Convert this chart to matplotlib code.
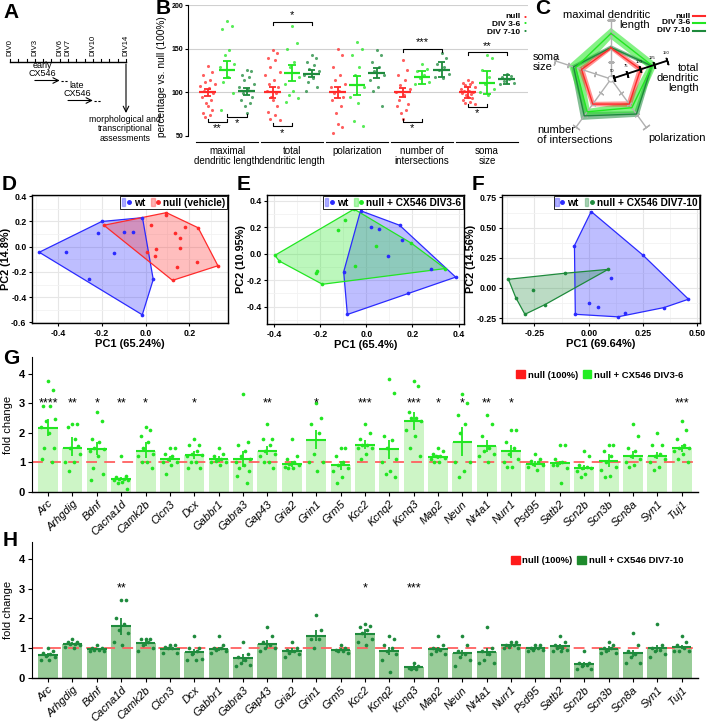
import matplotlib
matplotlib.use('Agg')
import matplotlib.pyplot as plt
import numpy as np
from matplotlib.patches import Patch
from matplotlib.lines import Line2D
from matplotlib.legend_handler import HandlerTuple
from matplotlib.ticker import FormatStrFormatter, MultipleLocator

plt.rcParams['font.family'] = ['Liberation Sans', 'DejaVu Sans']

# ---------------- data ----------------
div_days = [0, 3, 6, 7, 10, 14]

b_groups = ['maximal\ndendritic length', 'total\ndendritic length', 'polarization',
            'number of\nintersections', 'soma\nsize']
b_mean_null = [100, 100, 100, 100, 100]
b_sem_null = [4, 6, 6, 5, 6]
b_mean_early = [126, 122, 108, 117, 111]
b_sem_early = [10, 9, 11, 7, 13]
b_mean_late = [101, 121, 122, 126, 115]
b_sem_late = [4, 4, 6, 9, 5]
b_pts_null = [
    [130, 123, 120, 114, 112, 110, 107, 105, 102, 99, 95, 91, 88, 84, 80, 76, 74, 72],
    [148, 145, 139, 137, 129, 123, 120, 114, 110, 106, 102, 99, 95, 91, 84, 78, 74, 70, 68],
    [150, 143, 129, 120, 114, 110, 106, 102, 99, 95, 91, 84, 76, 64, 60, 53],
    [137, 125, 120, 114, 108, 104, 100, 97, 91, 87, 84, 80, 76, 70],
    [114, 112, 111, 110, 108, 106, 104, 102, 101, 100, 99, 98, 97, 95, 93, 91, 89, 88, 87],
]
b_pts_early = [
    [182, 176, 172, 148, 143, 133, 129, 118, 112, 99, 80],
    [176, 156, 150, 135, 129, 118, 110, 102, 97, 93, 89],
    [158, 150, 143, 129, 120, 106, 95, 88, 67, 61],
    [133, 127, 124, 120, 116, 112, 110],
    [143, 139, 125, 118, 110, 104, 100, 97],
]
b_pts_late = [
    [125, 124, 120, 118, 114, 110, 106, 103, 99, 95, 91, 88, 84, 76],
    [143, 139, 135, 131, 127, 124, 120, 116, 112, 106, 101],
    [148, 143, 135, 129, 124, 120, 114, 106, 101, 84],
    [145, 139, 133, 129, 125, 121, 118, 116],
    [121, 119, 117, 115, 113, 111, 109],
]
# (group, series a, series b, level, label, side)
b_sig = [(0, 0, 1, 66, '**', -1), (0, 1, 2, 72, '*', -1), (1, 0, 2, 181, '*', 1),
         (1, 0, 1, 61, '*', -1), (3, 0, 2, 150, '***', 1), (3, 0, 1, 66, '*', -1),
         (4, 0, 2, 146, '**', 1), (4, 0, 1, 83, '*', -1)]

d_wt = [(-0.485, -0.044), (-0.365, -0.044), (-0.26, -0.256), (-0.2, 0.2), (-0.215, 0.11),
        (-0.142, -0.051), (-0.098, 0.118), (-0.059, 0.115), (-0.014, 0.23), (0.035, -0.26),
        (-0.015, -0.54)]
d_null = [(-0.19, 0.17), (0.095, 0.27), (0.095, 0.25), (0.027, 0.17), (0.24, 0.15),
          (0.18, 0.155), (0.136, 0.108), (0.159, 0.072), (0.158, -0.013), (0.006, -0.044),
          (0.048, -0.018), (0.045, -0.077), (0.145, -0.164), (0.235, -0.123), (0.33, -0.151),
          (0.123, -0.267)]
e_wt = [(-0.025, 0.326), (0.022, 0.204), (0.053, 0.189), (0.144, 0.216), (0.155, 0.107),
        (0.092, -0.017), (0.279, -0.117), (0.387, -0.177), (0.18, -0.298), (-0.082, -0.46),
        (-0.098, -0.137)]
e_early = [(-0.053, 0.338), (-0.092, 0.256), (-0.121, 0.179), (-0.396, -0.012), (-0.377, -0.055),
           (-0.215, -0.132), (-0.218, -0.147), (-0.19, -0.231), (-0.05, -0.092), (0.043, 0.057),
           (0.195, 0.08), (0.342, -0.112)]
f_wt = [(0.011, 0.633), (-0.066, 0.351), (0.25, 0.271), (0.1, 0.08), (0.459, -0.093),
        (0.347, -0.162), (0.168, -0.21), (0.134, -0.239), (0.0, -0.122), (0.042, -0.154),
        (-0.062, -0.218)]
f_late = [(-0.37, 0.072), (-0.336, -0.08), (-0.257, -0.013), (-0.294, -0.218), (-0.202, -0.138),
          (-0.111, 0.122), (0.089, 0.154)]

genes = ['Arc', 'Arhgdig', 'Bdnf', 'Cacna1d', 'Camk2b', 'Clcn3', 'Dcx', 'Gabbr1', 'Gabra3',
         'Gap43', 'Gria2', 'Grin1', 'Grm5', 'Kcc2', 'Kcnq2', 'Kcnq3', 'Map2', 'Neun', 'Nr4a1',
         'Nurr1', 'Psd95', 'Satb2', 'Scn2b', 'Scn3b', 'Scn8a', 'Syn1', 'Tuj1']

g_mean = [2.17, 1.5, 1.45, 0.45, 1.4, 1.1, 1.25, 1.1, 1.13, 1.4, 0.95, 1.77, 0.9, 1.6, 1.45,
          2.4, 1.18, 1.7, 1.55, 1.4, 0.95, 0.98, 0.82, 1.05, 1.23, 1.22, 1.5]
g_lo = [1.9, 1.2, 1.25, 0.4, 1.15, 1.0, 1.1, 1.0, 0.85, 1.25, 0.85, 1.45, 0.75, 1.45, 1.1,
        2.1, 1.1, 1.2, 1.35, 1.15, 0.85, 0.9, 0.75, 0.85, 1.1, 1.1, 1.35]
g_hi = [2.45, 1.85, 1.7, 0.5, 1.7, 1.2, 1.4, 1.2, 1.4, 1.55, 1.05, 2.1, 1.05, 1.75, 1.75,
        2.7, 1.25, 2.2, 1.75, 1.6, 1.05, 1.05, 0.9, 1.3, 1.4, 1.35, 1.6]
g_pts = [
    [3.75, 3.45, 2.9, 2.9, 2.4, 2.45, 2.2, 2.0, 1.5, 1.5, 1.1, 1.0],
    [2.3, 2.3, 2.2, 1.8, 1.5, 1.3, 1.0, 1.0, 0.7, 1.55],
    [2.7, 2.4, 1.8, 1.7, 1.5, 1.45, 1.4, 1.2, 0.8, 0.6, 0.4],
    [1.2, 0.55, 0.5, 0.45, 0.45, 0.4, 0.4, 0.35, 0.3, 0.1],
    [2.2, 2.1, 1.9, 1.7, 1.5, 1.3, 1.2, 1.0, 1.0, 0.8],
    [1.5, 1.5, 1.3, 1.2, 1.1, 1.0, 1.0, 0.9, 0.6],
    [1.8, 1.6, 1.6, 1.4, 1.3, 1.25, 1.2, 1.0, 1.0, 0.8, 0.8],
    [1.5, 1.3, 1.2, 1.1, 1.05, 1.0, 1.0, 0.9],
    [3.3, 1.7, 1.6, 1.4, 1.2, 1.1, 1.0, 0.9, 0.8, 0.7, 0.55, 0.3],
    [2.3, 1.8, 1.8, 1.6, 1.4, 1.3, 1.2, 1.0, 1.0, 0.8],
    [1.8, 1.2, 1.1, 1.0, 0.95, 0.9, 0.85, 0.8, 0.8],
    [3.0, 2.5, 2.3, 2.0, 1.3, 1.0, 1.0, 0.7],
    [1.5, 1.5, 1.2, 1.0, 0.9, 0.8, 0.7, 0.5, 0.3],
    [2.3, 2.0, 1.8, 1.6, 1.6, 1.5, 1.5, 1.3, 1.1],
    [3.83, 3.33, 1.9, 1.75, 1.5, 1.1, 1.0, 0.7, 0.6, 0.5],
    [3.76, 3.59, 2.7, 2.5, 2.5, 2.4, 2.1, 1.9, 1.5, 1.2],
    [1.5, 1.4, 1.3, 1.2, 1.2, 1.15, 1.1, 1.0, 1.0],
    [3.3, 3.0, 2.6, 2.3, 2.0, 1.0, 1.0, 0.7, 0.5],
    [2.6, 2.3, 1.9, 1.5, 1.4, 1.3, 1.2, 1.0],
    [2.1, 2.1, 1.7, 1.5, 1.3, 1.1, 1.0, 0.85, 0.85],
    [1.3, 1.1, 1.05, 1.0, 0.95, 0.9, 0.85, 0.75],
    [1.6, 1.6, 1.1, 1.0, 0.9, 0.8, 0.9, 0.3],
    [1.4, 1.2, 0.9, 0.85, 0.8, 0.8, 0.7, 0.6, 0.5],
    [1.6, 1.6, 1.4, 1.2, 1.0, 0.85, 0.75, 0.55, 0.5],
    [2.3, 1.9, 1.5, 1.4, 1.2, 1.1, 1.0, 0.9, 0.85],
    [2.0, 1.6, 1.6, 1.3, 1.2, 1.1, 1.0, 0.85, 0.75],
    [2.4, 2.1, 1.8, 1.6, 1.5, 1.5, 1.4, 1.3, 1.1, 1.0],
]
g_stars = ['****', '**', '*', '**', '*', '', '*', '', '', '**', '', '*', '', '***', '',
           '***', '*', '*', '**', '*', '', '', '', '', '', '', '***']

h_mean = [0.78, 1.15, 0.98, 1.74, 1.17, 0.98, 0.87, 0.98, 0.66, 1.14, 0.92, 1.42, 0.95, 1.49,
          0.92, 0.36, 0.97, 0.84, 0.87, 1.1, 1.0, 1.06, 0.47, 0.96, 0.83, 0.99, 1.04]
h_lo = [0.7, 1.1, 0.93, 1.45, 1.07, 0.93, 0.77, 0.92, 0.55, 1.0, 0.83, 1.25, 0.9, 1.35,
        0.78, 0.28, 0.92, 0.73, 0.75, 1.05, 0.95, 0.98, 0.38, 0.88, 0.72, 0.88, 0.97]
h_hi = [0.85, 1.2, 1.02, 2.0, 1.27, 1.05, 0.98, 1.05, 0.8, 1.28, 1.0, 1.6, 1.0, 1.65,
        1.05, 0.45, 1.05, 0.95, 1.0, 1.13, 1.05, 1.15, 0.55, 1.07, 0.95, 1.12, 1.12]
h_pts = [
    [1.0, 0.9, 0.85, 0.8, 0.75, 0.7, 0.6, 0.6],
    [1.3, 1.2, 1.2, 1.15, 1.15, 1.1, 1.05, 1.0],
    [1.1, 1.0, 1.0, 0.95, 0.95, 0.9, 0.9],
    [2.6, 2.6, 2.0, 1.8, 1.6, 1.5, 1.2, 1.1],
    [1.3, 1.3, 1.3, 1.2, 1.1, 1.0, 0.9],
    [1.1, 1.1, 1.05, 1.0, 1.0, 0.85, 0.85],
    [1.4, 1.0, 1.0, 0.9, 0.8, 0.65, 0.6, 0.6],
    [1.4, 1.1, 1.0, 1.0, 0.95, 0.9, 0.85],
    [1.2, 0.8, 0.7, 0.6, 0.5, 0.45, 0.4],
    [1.7, 1.4, 1.2, 1.1, 1.0, 1.0, 0.9],
    [1.2, 1.0, 0.95, 0.9, 0.85, 0.8, 0.7],
    [2.1, 1.6, 1.3, 1.3, 1.0],
    [1.1, 1.0, 0.95, 0.9, 0.9, 0.85],
    [1.8, 1.75, 1.7, 1.6, 1.5, 1.3, 1.2, 1.1],
    [1.4, 1.3, 1.1, 1.0, 0.9, 0.8, 0.6, 0.2],
    [0.5, 0.4, 0.35, 0.3, 0.3],
    [1.4, 1.1, 1.0, 0.95, 0.9, 0.8, 0.8],
    [1.4, 1.1, 0.9, 0.8, 0.7, 0.6, 0.4],
    [1.7, 1.0, 0.9, 0.8, 0.6, 0.5, 0.5],
    [1.2, 1.2, 1.1, 1.1, 1.05, 1.0, 1.0],
    [1.1, 1.1, 1.0, 1.0, 0.95, 0.95, 0.9],
    [1.4, 1.2, 1.1, 1.0, 1.0, 0.95, 0.9, 0.9],
    [0.9, 0.5, 0.5, 0.45, 0.4, 0.3, 0.3],
    [1.2, 1.1, 1.0, 1.0, 0.9, 0.85, 0.85],
    [1.5, 1.1, 0.9, 0.8, 0.7, 0.5, 0.5],
    [1.8, 1.1, 1.0, 0.95, 0.9, 0.8, 0.7],
    [1.4, 1.2, 1.1, 1.0, 0.9, 0.9, 0.9],
]
h_stars = ['', '', '', '**', '', '', '', '', '', '', '', '', '', '*', '', '***', '',
           '', '', '', '', '', '', '', '', '', '']

RED = '#ff2a2a'
LG = '#22e622'
DG = '#1e8a3c'
BLUE = '#2a2aff'

W, H = 709, 723
fig = plt.figure(figsize=(W / 100, H / 100), dpi=100)


def box(l, t, r, b):
    return [l / W, 1 - b / H, (r - l) / W, (b - t) / H]


def spread(n, w):
    base = np.array([0, 0.6, -0.6, 0.3, -0.3, 0.9, -0.9, 0.15, -0.45, 0.75, -0.75, 0.45, -0.15])
    return np.resize(base, n) * w


def letter(x, y, s):
    fig.text(x / W, 1 - y / H, s, fontsize=15, fontweight='bold', ha='left', va='center')


# ---------------- A: timeline ----------------
axa = fig.add_axes(box(10, 10, 126, 190))
axa.set_xlim(0, 14)
axa.set_ylim(190, 10)
axa.axis('off')
axa.plot([0, 14], [62, 62], 'k', lw=1, clip_on=False)
for d in range(15):
    axa.plot([d, d], [62, 59], 'k', lw=0.8, clip_on=False)
for d in div_days:
    axa.text(d, 56, f'DIV{d}', rotation=90, ha='center', va='bottom', fontsize=5.5)
for t0, t1, ty, lab, lx in [(3, 6, 80.5, 'early\nCX546', 3.9), (7, 10, 100.5, 'late\nCX546', 8.1)]:
    axa.annotate('', xy=(t1, ty), xytext=(t0, ty),
                 arrowprops=dict(arrowstyle='->', lw=0.8, shrinkA=0, shrinkB=0))
    axa.plot([t1 + 0.15, t1 + 1], [ty, ty], 'k', lw=0.8, dashes=(2, 1.5))
    axa.text(lx, ty - 2, lab, ha='center', va='bottom', fontsize=6.5, linespacing=1.0)
axa.annotate('', xy=(14, 113), xytext=(14, 64),
             arrowprops=dict(arrowstyle='->', lw=0.8, shrinkA=0, shrinkB=0))
axa.text(13.9, 115, 'morphological and\ntranscriptional\nassessments', ha='center', va='top',
         fontsize=6.3, linespacing=1.05, clip_on=False)
letter(3, 12, 'A')

# ---------------- B: morphology ----------------
axb = fig.add_axes(box(188, 5, 528, 136))
axb.set_xlim(-0.6, 4.63)
axb.set_ylim(50, 200)
offs = [-0.3, 0, 0.3]
cols = [RED, LG, DG]
means = [b_mean_null, b_mean_early, b_mean_late]
sems = [b_sem_null, b_sem_early, b_sem_late]
ptss = [b_pts_null, b_pts_early, b_pts_late]
for v in [100, 150, 200]:
    axb.axhline(v, color='#d0d0d0', lw=0.8, zorder=0)
for i in range(5):
    for k in range(3):
        x = i + offs[k]
        p = ptss[k][i]
        axb.scatter(x + spread(len(p), 0.12), p, s=5, color=cols[k], alpha=0.75, lw=0, zorder=2)
        m, s = means[k][i], sems[k][i]
        axb.hlines(m, x - 0.13, x + 0.13, color=cols[k], lw=1.6, zorder=3)
        axb.vlines(x, m - s, m + s, color=cols[k], lw=1.3, zorder=3)
        axb.hlines([m - s, m + s], x - 0.06, x + 0.06, color=cols[k], lw=1.3, zorder=3)
    axb.plot([i - 0.47, i + 0.47], [43, 43], 'k', lw=0.8, clip_on=False)
    axb.text(i, 39, b_groups[i], ha='center', va='top', fontsize=7, linespacing=1.1)
for g, a, b, lev, lab, side in b_sig:
    x0, x1 = g + offs[a], g + offs[b]
    tick = -3.5 * side
    axb.plot([x0, x0, x1, x1], [lev + tick, lev, lev, lev + tick], 'k', lw=0.8, clip_on=False)
    axb.text((x0 + x1) / 2, lev + side * 1.5, lab, ha='center',
             va='bottom' if side > 0 else 'top', fontsize=8, clip_on=False)
axb.set_yticks([50, 100, 150, 200])
axb.tick_params(axis='y', labelsize=5, length=2, width=0.8, pad=1.5)
for t in axb.get_yticklabels():
    t.set_fontweight('bold')
axb.set_xticks([])
for sp in ['top', 'right', 'bottom']:
    axb.spines[sp].set_visible(False)
axb.spines['left'].set_linewidth(0.8)
axb.set_ylabel('percentage vs. null (100%)', fontsize=7.3)
axb.yaxis.set_label_coords(-0.062, 0.45)
for lab, c, yy in [('null', RED, 17), ('DIV 3-6', LG, 24), ('DIV 7-10', DG, 32)]:
    fig.text(520 / W, 1 - yy / H, lab, ha='right', va='center', fontsize=6, fontweight='bold')
    fig.text(525 / W, 1 - yy / H, '\u2022', ha='center', va='center', fontsize=6, color=c)
letter(156, 9, 'B')

# ---------------- C: radar ----------------
cx, cy, rad = 611, 79, 62
axc = fig.add_axes(box(cx - rad, cy - rad, cx + rad, cy + rad), projection='polar')
axc.set_ylim(44.6, 155.4)
axc.set_axis_off()
ang = np.deg2rad(90 - 72 * np.arange(5))
angc = np.append(ang, ang[0])
th_c = np.linspace(0, 2 * np.pi, 80)
axc.plot(th_c, np.full_like(th_c, 50), color='#b0b0b0', lw=0.8)
for a in ang:
    axc.plot([a, a], [50, 150], color='#b0b0b0', lw=1.0)
    for v in [75, 100, 125]:
        axc.plot(a, v, marker=(2, 2, np.rad2deg(a)), ms=4, color='#b0b0b0', mew=0.9)
    axc.plot(a, 150, marker=(2, 2, np.rad2deg(a)), ms=6, color='#b0b0b0', mew=1.0)


def ring(m, s):
    m = np.asarray(m, float)
    s = np.asarray(s, float)
    outer = np.append(m + s, (m + s)[0])
    inner = np.append(m - s, (m - s)[0])
    return np.concatenate([angc, angc[::-1]]), np.concatenate([outer, inner[::-1]])


for m, s, c, al in [(b_mean_late, b_sem_late, DG, 0.55), (b_mean_early, b_sem_early, LG, 0.55),
                    (b_mean_null, b_sem_null, RED, 0.5)]:
    th, rr = ring(m, s)
    axc.fill(th, rr, color=c, alpha=al, lw=0)
    axc.plot(angc, np.append(m, m[0]), color=c, lw=1.0)
a1 = ang[1]
axc.plot([a1, a1], [50, 150], 'k', lw=1.3)
for v in [50, 75, 100, 125, 150]:
    axc.plot(a1, v, marker=(2, 2, np.rad2deg(a1)), ms=5, color='k', mew=1.2)
    axc.annotate(str(v), (a1, v), xytext=(-1, 4), textcoords='offset points', fontsize=3,
                 ha='center', va='bottom')
fs = 8
fig.text(650 / W, 1 - 10 / H, 'maximal dendritic\nlength', ha='right', va='top', fontsize=fs,
         multialignment='right', linespacing=0.95)
fig.text(699 / W, 1 - 78 / H, 'total\ndendritic\nlength', ha='right', va='center', fontsize=fs,
         multialignment='right', linespacing=0.95)
fig.text(648 / W, 1 - 138 / H, 'polarization', ha='left', va='center', fontsize=fs)
fig.text(537 / W, 1 - 135 / H, 'number\nof intersections', ha='left', va='center', fontsize=fs,
         linespacing=0.95)
fig.text(533 / W, 1 - 62 / H, 'soma\nsize', ha='left', va='center', fontsize=fs, linespacing=0.95)
for lab, c, yy in [('null', RED, 16), ('DIV 3-6', LG, 23), ('DIV 7-10', DG, 31)]:
    fig.text(690 / W, 1 - yy / H, lab, ha='right', va='center', fontsize=6, fontweight='bold')
    fig.add_artist(Line2D([693 / W, 705 / W], [1 - yy / H, 1 - yy / H], color=c, lw=1.5))
letter(535, 9, 'C')


# ---------------- D/E/F: PCA ----------------
def hull(pts):
    p = sorted(set(pts))

    def cross(o, a, b):
        return (a[0] - o[0]) * (b[1] - o[1]) - (a[1] - o[1]) * (b[0] - o[0])
    lower, upper = [], []
    for q in p:
        while len(lower) >= 2 and cross(lower[-2], lower[-1], q) <= 0:
            lower.pop()
        lower.append(q)
    for q in reversed(p):
        while len(upper) >= 2 and cross(upper[-2], upper[-1], q) <= 0:
            upper.pop()
        upper.append(q)
    return np.array(lower[:-1] + upper[:-1])


def pca_panel(rect, wt, other, oc, olab, xlim, ylim, xt, yt, fmt, xlab, ylab):
    ax = fig.add_axes(rect)
    for pts, c in [(wt, BLUE), (other, oc)]:
        hp = hull(pts)
        ax.fill(hp[:, 0], hp[:, 1], facecolor=c, alpha=0.3, edgecolor='none', zorder=2)
        ax.fill(hp[:, 0], hp[:, 1], facecolor='none', edgecolor=c, lw=0.9, zorder=3)
        arr = np.array(pts)
        ax.scatter(arr[:, 0], arr[:, 1], s=7, color=c, zorder=4, lw=0)
    ax.set_xlim(*xlim)
    ax.set_ylim(*ylim)
    ax.set_xticks(xt)
    ax.set_yticks(yt)
    ax.xaxis.set_minor_locator(MultipleLocator((xt[1] - xt[0]) / 2))
    ax.yaxis.set_minor_locator(MultipleLocator((yt[1] - yt[0]) / 2))
    ax.grid(True, which='major', color='#e6e6e6', lw=0.8, zorder=0)
    ax.grid(True, which='minor', color='#f2f2f2', lw=0.6, zorder=0)
    ax.set_axisbelow(True)
    ax.xaxis.set_major_formatter(FormatStrFormatter(fmt))
    ax.yaxis.set_major_formatter(FormatStrFormatter(fmt))
    ax.tick_params(which='minor', length=0)
    ax.tick_params(which='major', labelsize=6.3, length=2.5, width=0.8, pad=1.5)
    for t in ax.get_xticklabels() + ax.get_yticklabels():
        t.set_fontweight('bold')
    for sp in ax.spines.values():
        sp.set_linewidth(1.0)
    ax.set_xlabel(xlab, fontsize=8, fontweight='bold', labelpad=1)
    ax.set_ylabel(ylab, fontsize=7.8, fontweight='bold', labelpad=0)
    hw = (Patch(facecolor=BLUE, alpha=0.35, edgecolor=BLUE),
          Line2D([], [], marker='o', color=BLUE, ls='', ms=2.5))
    ho = (Patch(facecolor=oc, alpha=0.35, edgecolor=oc),
          Line2D([], [], marker='o', color=oc, ls='', ms=2.5))
    leg = ax.legend([hw, ho], ['wt', olab], handler_map={tuple: HandlerTuple(ndivide=None)},
                    loc='upper right', ncol=2, handlelength=0.9,
                    handleheight=0.9, columnspacing=0.6, handletextpad=0.3,
                    borderpad=0.15, borderaxespad=0.1, fancybox=False, framealpha=1,
                    edgecolor='black', prop={'weight': 'bold', 'size': 7.3})
    leg.get_frame().set_linewidth(0.6)
    return ax


pca_panel(box(32, 195, 228, 323), d_wt, d_null, RED, 'null (vehicle)',
          (-0.518, 0.376), (-0.605, 0.41), [-0.4, -0.2, 0.0, 0.2],
          [-0.6, -0.4, -0.2, 0.0, 0.2, 0.4], '%.1f', 'PC1 (65.24%)', 'PC2 (14.8%)')
pca_panel(box(267, 195, 464, 324), e_wt, e_early, LG, 'null + CX546 DIV3-6',
          (-0.43, 0.423), (-0.532, 0.445), [-0.4, -0.2, 0.0, 0.2, 0.4],
          [-0.4, -0.2, 0.0, 0.2, 0.4], '%.1f', 'PC1 (65.4%)', 'PC2 (10.95%)')
pca_panel(box(502, 195, 700, 323), f_wt, f_late, DG, 'null + CX546 DIV7-10',
          (-0.3995, 0.512), (-0.29, 0.77), [-0.25, 0.0, 0.25, 0.5],
          [-0.25, 0.0, 0.25, 0.5, 0.75], '%.2f', 'PC1 (69.64%)', 'PC2 (14.56%)')
letter(2, 184, 'D')
letter(237, 184, 'E')
letter(472, 184, 'F')


# ---------------- G/H: fold change ----------------
def fold_panel(rect, mean, lo, hi, pts, stars, bar_c, pt_c, leg_lab, leg_c, leg_y):
    ax = fig.add_axes(rect)
    x = np.arange(len(genes))
    ax.bar(x, mean, width=0.82, color=bar_c, zorder=1)
    ax.axhline(1, color='#ff6060', lw=1.3, dashes=(6, 4), zorder=2)
    for i in range(len(genes)):
        p = pts[i]
        ax.scatter(i + spread(len(p), 0.33), p, s=7, color=pt_c, lw=0, zorder=3)
        ax.hlines(mean[i], i - 0.4, i + 0.4, color=pt_c, lw=1.5, zorder=4)
        ax.vlines(i, lo[i], hi[i], color=pt_c, lw=1.3, zorder=4)
        if stars[i]:
            ax.text(i, 3.0, stars[i], ha='center', va='center', fontsize=9, zorder=5)
    ax.set_xlim(-0.66, 26.67)
    ax.set_ylim(0, 4.56)
    ax.set_yticks([0, 1, 2, 3, 4])
    ax.set_xticks(x)
    ax.set_xticklabels(genes, rotation=45, ha='right', rotation_mode='anchor',
                       fontsize=8, style='italic')
    ax.tick_params(axis='x', length=3, width=0.8, pad=2)
    ax.tick_params(axis='y', labelsize=8, length=3, width=0.8, pad=2)
    for t in ax.get_yticklabels():
        t.set_fontweight('bold')
    for sp in ['top', 'right']:
        ax.spines[sp].set_visible(False)
    ax.spines['left'].set_linewidth(0.8)
    ax.spines['bottom'].set_linewidth(1.0)
    ax.set_ylabel('fold change', fontsize=8, labelpad=4)
    ax.legend([Patch(color='#ff1a1a'), Patch(color=leg_c)], ['null (100%)', leg_lab],
              loc='center right', bbox_to_anchor=(0.985, leg_y), ncol=2, frameon=False,
              handlelength=0.9, handleheight=0.9, columnspacing=0.5, handletextpad=0.3,
              borderpad=0, prop={'weight': 'bold', 'size': 6.8})
    return ax


fold_panel(box(32, 357, 698, 492), g_mean, g_lo, g_hi, g_pts, g_stars,
           '#cdf5c6', LG, 'null + CX546 DIV3-6', '#22ee22', 0.867)
fold_panel(box(32, 542, 698, 678), h_mean, h_lo, h_hi, h_pts, h_stars,
           '#98cc98', DG, 'null + CX546 DIV7-10', '#1e8a2c', 0.862)
letter(3, 358, 'G')
letter(3, 541, 'H')

fig.savefig('out.png', dpi=100, facecolor='white')
